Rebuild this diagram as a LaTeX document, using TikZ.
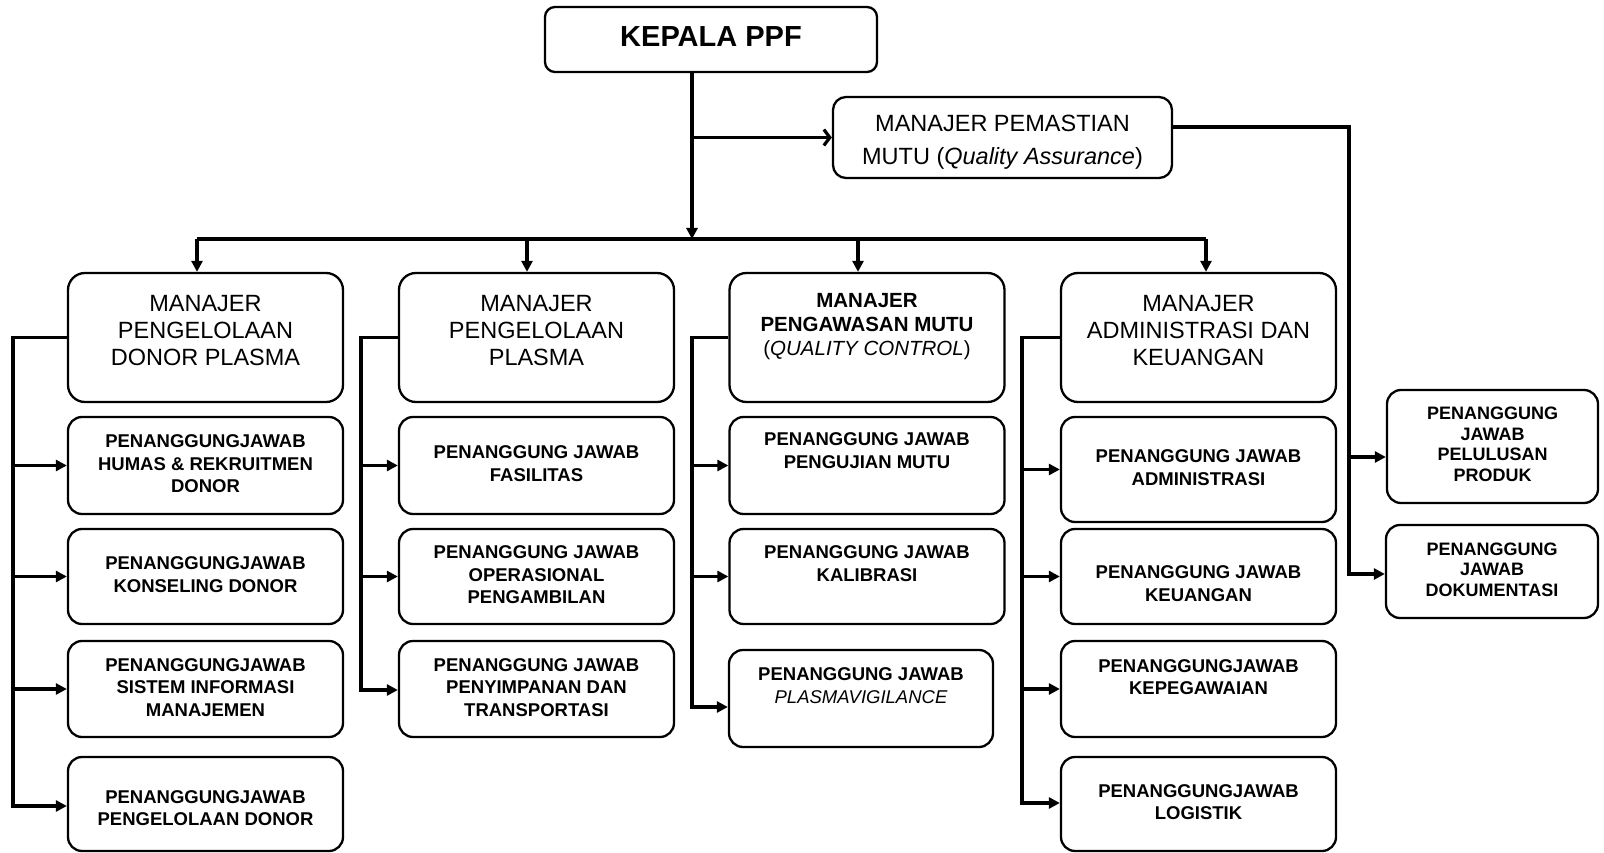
\documentclass[tikz,border=0pt]{standalone}
\usepackage{fontspec}
\setmainfont{Liberation Sans}
\usetikzlibrary{arrows.meta}

% centred block of lines, moved up (or down) inside its box by #1
\newcommand\boxtext[2]{\raisebox{#1}[\height][\depth]{\begin{tabular}{@{}c@{}}#2\end{tabular}}}

\tikzset{
  box/.style={draw, line width=2.3pt, rounded corners=14pt, inner sep=0pt, fill=white},
  headbox/.style={box, rounded corners=10pt, font=\bfseries\fontsize{29}{33}\selectfont},
  qabox/.style={box, rounded corners=13pt, font=\fontsize{23.5}{33}\selectfont},
  mgr/.style={box, rounded corners=17pt, minimum width=275pt, minimum height=129pt,
              font=\fontsize{23.5}{27}\selectfont},
  sub/.style={box, minimum width=275pt, font=\bfseries\fontsize{18.5}{22.5}\selectfont},
  side/.style={box, font=\bfseries\fontsize{18}{20.5}\selectfont},
  conn/.style={line width=3.2pt},
  arr/.style={conn, -{Triangle[length=11pt,width=11pt]}},
  openarr/.style={conn, -{Straight Barb[length=6pt,width=16pt]}}
}

\begin{document}
\begin{tikzpicture}[x=1pt,y=-1pt]
\useasboundingbox (0,0) rectangle (1604,853);
\fill[white] (0,0) rectangle (1604,853);

% top level
\node[headbox, minimum width=332pt, minimum height=65pt] (kepala) at (711,39.5)
  {\boxtext{0pt}{KEPALA PPF}};
\node[qabox, minimum width=339pt, minimum height=81pt] (qa) at (1002.5,137.5)
  {\boxtext{-4pt}{MANAJER PEMASTIAN\\MUTU (\textit{Quality Assurance})}};

% managers
\node[mgr] (m1) at (205.5,337.5) {\boxtext{4pt}{MANAJER\\PENGELOLAAN\\DONOR PLASMA}};
\node[mgr] (m2) at (536.5,337.5) {\boxtext{4pt}{MANAJER\\PENGELOLAAN\\PLASMA}};
\node[mgr, font=\fontsize{20.5}{24}\selectfont] (m3) at (867,337.5)
  {\boxtext{11pt}{\textbf{MANAJER}\\\textbf{PENGAWASAN MUTU}\\(\textit{QUALITY CONTROL})}};
\node[mgr] (m4) at (1198.5,337.5) {\boxtext{4pt}{MANAJER\\ADMINISTRASI DAN\\KEUANGAN}};

% column 1
\node[sub, minimum height=97pt] (s11) at (205.5,465.5)
  {\boxtext{0pt}{PENANGGUNGJAWAB\\HUMAS \& REKRUITMEN\\DONOR}};
\node[sub, minimum height=95pt] (s12) at (205.5,576.5)
  {\boxtext{0pt}{PENANGGUNGJAWAB\\KONSELING DONOR}};
\node[sub, minimum height=96pt] (s13) at (205.5,689)
  {\boxtext{0pt}{PENANGGUNGJAWAB\\SISTEM INFORMASI\\MANAJEMEN}};
\node[sub, minimum height=94pt] (s14) at (205.5,804)
  {\boxtext{-6pt}{PENANGGUNGJAWAB\\PENGELOLAAN DONOR}};

% column 2
\node[sub, minimum height=97pt] (s21) at (536.5,465.5)
  {\boxtext{0pt}{PENANGGUNG JAWAB\\FASILITAS}};
\node[sub, minimum height=95pt] (s22) at (536.5,576.5)
  {\boxtext{0pt}{PENANGGUNG JAWAB\\OPERASIONAL\\PENGAMBILAN}};
\node[sub, minimum height=96pt] (s23) at (536.5,689)
  {\boxtext{0pt}{PENANGGUNG JAWAB\\PENYIMPANAN DAN\\TRANSPORTASI}};

% column 3
\node[sub, minimum height=97pt] (s31) at (867,465.5)
  {\boxtext{13pt}{PENANGGUNG JAWAB\\PENGUJIAN MUTU}};
\node[sub, minimum height=95pt] (s32) at (867,576.5)
  {\boxtext{11pt}{PENANGGUNG JAWAB\\KALIBRASI}};
\node[sub, minimum width=264pt, minimum height=97pt] (s33) at (861,698.5)
  {\boxtext{11pt}{PENANGGUNG JAWAB\\{\mdseries\itshape PLASMAVIGILANCE}}};

% column 4
\node[sub, minimum height=105pt] (s41) at (1198.5,469.5)
  {\boxtext{0pt}{PENANGGUNG JAWAB\\ADMINISTRASI}};
\node[sub, minimum height=95pt] (s42) at (1198.5,576.5)
  {\boxtext{-9pt}{PENANGGUNG JAWAB\\KEUANGAN}};
\node[sub, minimum height=96pt] (s43) at (1198.5,689)
  {\boxtext{10pt}{PENANGGUNGJAWAB\\KEPEGAWAIAN}};
\node[sub, minimum height=94pt] (s44) at (1198.5,804)
  {\boxtext{0pt}{PENANGGUNGJAWAB\\LOGISTIK}};

% quality assurance staff
\node[side, minimum width=211pt, minimum height=113pt] (pel) at (1492.5,446.5)
  {\boxtext{0pt}{PENANGGUNG\\JAWAB\\PELULUSAN\\PRODUK}};
\node[side, minimum width=212pt, minimum height=93pt] (dok) at (1492,571.5)
  {\boxtext{0pt}{PENANGGUNG\\JAWAB\\DOKUMENTASI}};

% trunk, branch to QA and the bus
\coordinate (trunk) at (692,239);
\coordinate (b1) at (197,239);
\coordinate (b2) at (527,239);
\coordinate (b3) at (858,239);
\coordinate (b4) at (1206,239);
\draw[arr] (kepala.south -| trunk) -- (trunk);
\draw[openarr] (qa.west -| trunk) -- (qa.west);
\draw[conn] (b1) -- (b4);
\draw[arr] (b1) -- (b1 |- m1.north);
\draw[arr] (b2) -- (b2 |- m2.north);
\draw[arr] (b3) -- (b3 |- m3.north);
\draw[arr] (b4) -- (b4 |- m4.north);

% column spines
\coordinate (c1) at (13,806);
\draw[arr] (m1.west) -| (c1) -- (c1 -| s14.west);
\draw[arr] (c1 |- s11.west) -- (s11.west);
\draw[arr] (c1 |- s12.west) -- (s12.west);
\draw[arr] (c1 |- s13.west) -- (s13.west);

\coordinate (c2) at (361,690);
\draw[arr] (m2.west) -| (c2) -- (c2 -| s23.west);
\draw[arr] (c2 |- s21.west) -- (s21.west);
\draw[arr] (c2 |- s22.west) -- (s22.west);

\coordinate (c3) at (692,707);
\draw[arr] (m3.west) -| (c3) -- (c3 -| s33.west);
\draw[arr] (c3 |- s31.west) -- (s31.west);
\draw[arr] (c3 |- s32.west) -- (s32.west);

\coordinate (c4) at (1022,803);
\draw[arr] (m4.west) -| (c4) -- (c4 -| s44.west);
\draw[arr] (c4 |- s41.west) -- (s41.west);
\draw[arr] (c4 |- s42.west) -- (s42.west);
\draw[arr] (c4 |- s43.west) -- (s43.west);

% quality assurance line
\coordinate (q1) at (1349,127);
\coordinate (q2) at (1349,574);
\coordinate (q3) at (1349,457);
\draw[arr] (q1 -| qa.east) -- (q1) -- (q2) -- (q2 -| dok.west);
\draw[arr] (q3) -- (q3 -| pel.west);
\end{tikzpicture}
\end{document}
